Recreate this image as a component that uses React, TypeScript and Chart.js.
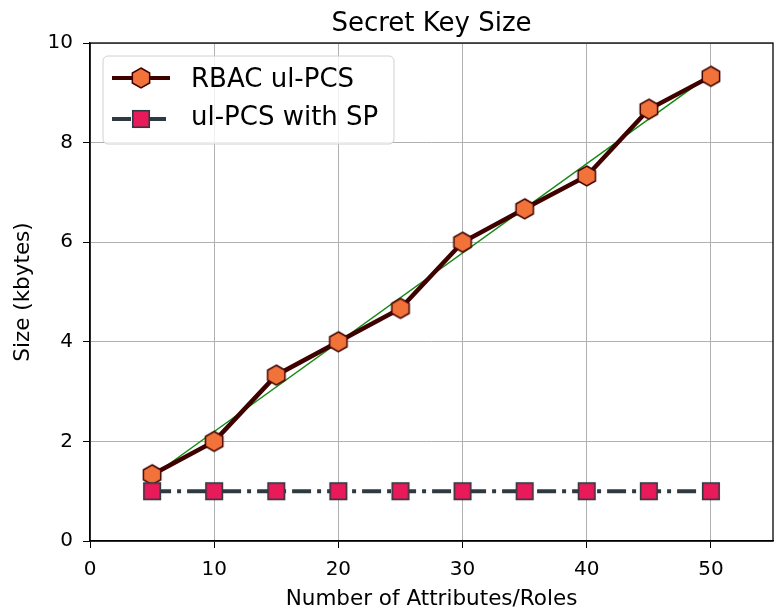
import React, { useEffect, useRef } from "react";
import { Chart, registerables } from "chart.js";
Chart.register(...registerables);

const xValues = [5, 10, 15, 20, 25, 30, 35, 40, 45, 50];
const rbacValues = [1.33, 2.0, 3.33, 4.0, 4.67, 6.0, 6.67, 7.33, 8.67, 9.33];
const spValues = [1, 1, 1, 1, 1, 1, 1, 1, 1, 1];
const fitX = [5, 50];
const fitY = [1.3, 9.37];
const xTicks = [0, 10, 20, 30, 40, 50];
const yTicks = [0, 2, 4, 6, 8, 10];

const FONT = "'DejaVu Sans', sans-serif";
const MAROON = "#3f0000";
const ORANGE = "#f2733a";
const PINK = "#e81a5a";
const SLATE = "#2e3a42";
const DASHDOT = [19, 6, 4, 6];

function hexPath(ctx: CanvasRenderingContext2D, cx: number, cy: number, r: number) {
  ctx.beginPath();
  for (let i = 0; i < 6; i++) {
    const a = -Math.PI / 2 + (i * Math.PI) / 3;
    const px = cx + r * Math.cos(a);
    const py = cy + r * Math.sin(a);
    if (i === 0) ctx.moveTo(px, py);
    else ctx.lineTo(px, py);
  }
  ctx.closePath();
}

function makeHex(): HTMLCanvasElement {
  const c = document.createElement("canvas");
  c.width = 24;
  c.height = 24;
  const ctx = c.getContext("2d")!;
  hexPath(ctx, 12, 12, 10);
  ctx.fillStyle = ORANGE;
  ctx.fill();
  ctx.lineWidth = 1.5;
  ctx.strokeStyle = MAROON;
  ctx.stroke();
  return c;
}

function makeSquare(): HTMLCanvasElement {
  const c = document.createElement("canvas");
  c.width = 22;
  c.height = 22;
  const ctx = c.getContext("2d")!;
  ctx.fillStyle = PINK;
  ctx.fillRect(2.75, 2.75, 16.5, 16.5);
  ctx.lineWidth = 1.6;
  ctx.strokeStyle = SLATE;
  ctx.strokeRect(2.75, 2.75, 16.5, 16.5);
  return c;
}

export default function App() {
  const ref = useRef<HTMLCanvasElement>(null);
  useEffect(() => {
    document.body.style.margin = "0";
    const hex = makeHex();
    const sq = makeSquare();

    const overlay = {
      id: "overlay",
      afterDraw(chart: any) {
        const ctx = chart.ctx as CanvasRenderingContext2D;
        const a = chart.chartArea;
        const xs = chart.scales.x;
        ctx.save();
        // frame
        ctx.strokeStyle = "#000";
        ctx.lineWidth = 1.3;
        ctx.strokeRect(a.left, a.top, a.right - a.left, a.bottom - a.top);
        // x tick labels
        ctx.fillStyle = "#000";
        ctx.font = `20px ${FONT}`;
        ctx.textAlign = "center";
        ctx.textBaseline = "alphabetic";
        xTicks.forEach((v) => {
          ctx.fillText(String(v), xs.getPixelForValue(v), a.bottom + 34);
        });
        // title
        ctx.font = `26px ${FONT}`;
        ctx.fillText("Secret Key Size", (a.left + a.right) / 2, 31);
        // x label
        ctx.font = `21.5px ${FONT}`;
        ctx.fillText("Number of Attributes/Roles", (a.left + a.right) / 2, 605);
        // y label
        ctx.save();
        ctx.translate(23, (a.top + a.bottom) / 2);
        ctx.rotate(-Math.PI / 2);
        ctx.textBaseline = "middle";
        ctx.fillText("Size (kbytes)", 0, 0);
        ctx.restore();
        // legend
        const lx = 103, ly = 56, lw = 291, lh = 88, rr = 5;
        ctx.beginPath();
        ctx.moveTo(lx + rr, ly);
        ctx.arcTo(lx + lw, ly, lx + lw, ly + lh, rr);
        ctx.arcTo(lx + lw, ly + lh, lx, ly + lh, rr);
        ctx.arcTo(lx, ly + lh, lx, ly, rr);
        ctx.arcTo(lx, ly, lx + lw, ly, rr);
        ctx.closePath();
        ctx.fillStyle = "rgba(255,255,255,0.8)";
        ctx.fill();
        ctx.strokeStyle = "#d0d0d0";
        ctx.lineWidth = 1;
        ctx.stroke();
        const ds = chart.data.datasets;
        // row 1
        ctx.beginPath();
        ctx.moveTo(112, 78);
        ctx.lineTo(170, 78);
        ctx.strokeStyle = MAROON;
        ctx.lineWidth = 4;
        ctx.stroke();
        ctx.drawImage(hex, 141 - 12, 78 - 12);
        // row 2
        ctx.beginPath();
        ctx.setLineDash(DASHDOT);
        ctx.moveTo(112, 119);
        ctx.lineTo(170, 119);
        ctx.strokeStyle = SLATE;
        ctx.lineWidth = 4;
        ctx.stroke();
        ctx.setLineDash([]);
        ctx.drawImage(sq, 141 - 11, 119 - 11);
        ctx.fillStyle = "#000";
        ctx.font = `26px ${FONT}`;
        ctx.textAlign = "left";
        ctx.textBaseline = "alphabetic";
        ctx.fillText(ds[1].label, 191, 87);
        ctx.fillText(ds[2].label, 191, 125);
        ctx.restore();
      },
    };

    const chart = new Chart(ref.current!, {
      type: "line",
      data: {
        datasets: [
          {
            label: "fit",
            data: fitX.map((x, i) => ({ x, y: fitY[i] })),
            borderColor: "#138a13",
            borderWidth: 1.5,
            pointRadius: 0,
            order: 3,
          },
          {
            label: "RBAC ul-PCS",
            data: xValues.map((x, i) => ({ x, y: rbacValues[i] })),
            borderColor: MAROON,
            borderWidth: 4.5,
            pointStyle: hex,
            pointRadius: 10,
            order: 2,
          },
          {
            label: "ul-PCS with SP",
            data: xValues.map((x, i) => ({ x, y: spValues[i] })),
            borderColor: SLATE,
            borderWidth: 4,
            borderDash: DASHDOT,
            pointStyle: sq,
            pointRadius: 10,
            order: 1,
          },
        ],
      },
      options: {
        animation: false,
        responsive: false,
        layout: { autoPadding: false, padding: { left: 0, top: 43, right: 10, bottom: 0 } },
        plugins: { legend: { display: false }, title: { display: false }, tooltip: { enabled: false } },
        scales: {
          x: {
            type: "linear",
            min: 0,
            max: 55,
            afterBuildTicks: (s: any) => {
              s.ticks = xTicks.map((v) => ({ value: v }));
            },
            afterFit: (s: any) => {
              s.height = 72;
              s.paddingLeft = 0;
              s.paddingRight = 0;
            },
            grid: { color: "#b0b0b0", lineWidth: 1, tickColor: "#000", tickLength: 7 },
            border: { color: "#000", width: 1.3 },
            ticks: { display: false },
          },
          y: {
            type: "linear",
            min: 0,
            max: 10,
            afterBuildTicks: (s: any) => {
              s.ticks = yTicks.map((v) => ({ value: v }));
            },
            afterFit: (s: any) => {
              s.width = 90;
              s.paddingTop = 0;
              s.paddingBottom = 0;
            },
            grid: { color: "#b0b0b0", lineWidth: 1, tickColor: "#000", tickLength: 7 },
            border: { color: "#000", width: 1.3 },
            ticks: { color: "#000", font: { family: FONT, size: 20 }, padding: 10 },
          },
        },
      },
      plugins: [overlay],
    } as any);
    return () => chart.destroy();
  }, []);
  return (
    <div style={{ width: 783, height: 613, position: "relative" }}>
      <canvas ref={ref} width={783} height={613} style={{ width: 783, height: 613, display: "block" }} />
    </div>
  );
}
